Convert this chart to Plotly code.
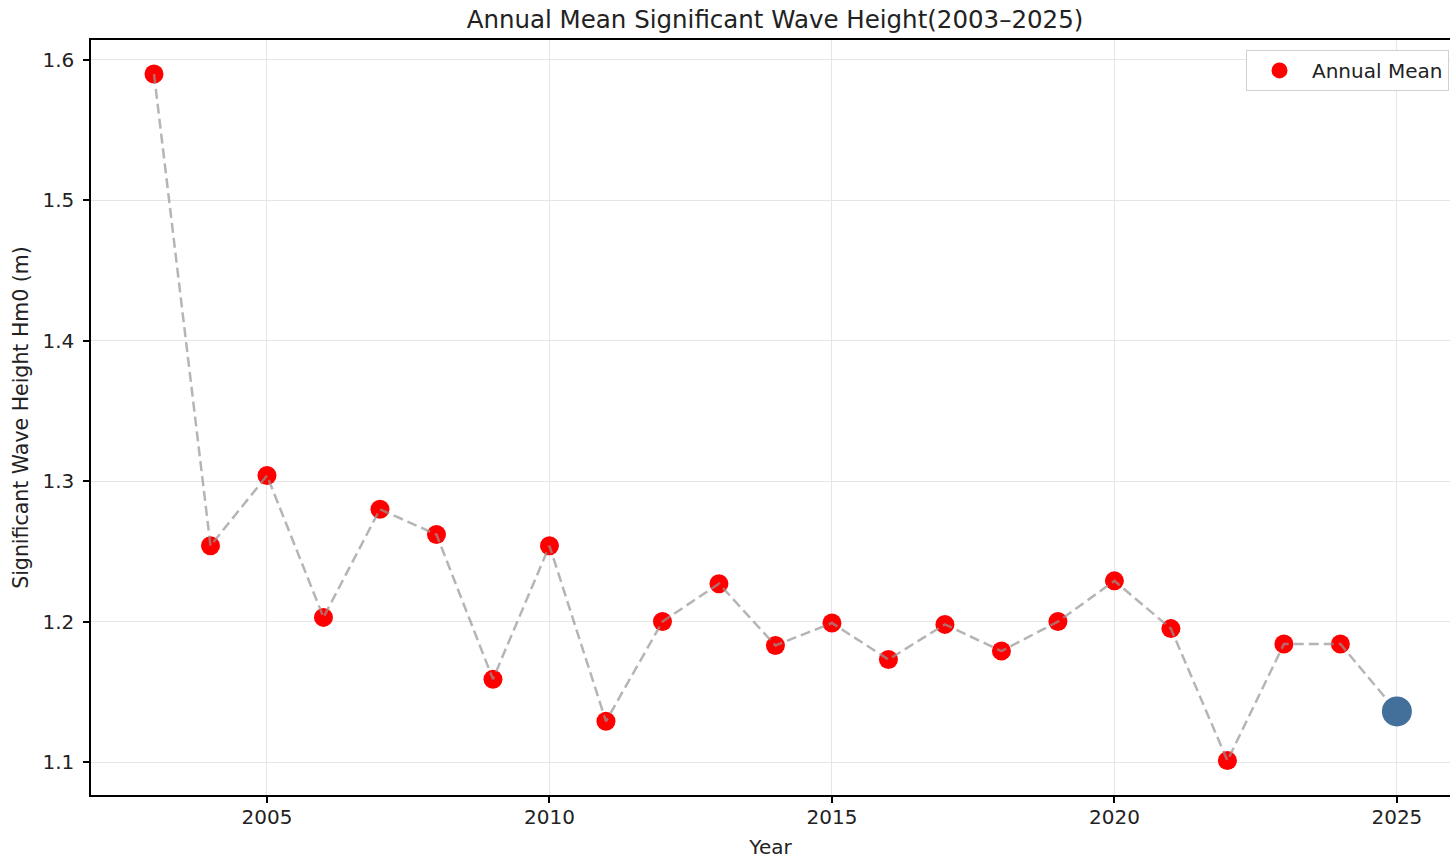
import plotly.graph_objects as go

years = list(range(2003, 2026))
hm0 = [1.590, 1.254, 1.304, 1.203, 1.280, 1.262, 1.159, 1.254, 1.129, 1.200,
       1.227, 1.183, 1.199, 1.173, 1.198, 1.179, 1.200, 1.229, 1.195, 1.101,
       1.184, 1.184, 1.136]
y_ticks = [1.1, 1.2, 1.3, 1.4, 1.5, 1.6]
x_ticks = [2005, 2010, 2015, 2020, 2025]

FONT = "DejaVu Sans"

fig = go.Figure()
fig.add_trace(go.Scatter(
    x=years[:-1], y=hm0[:-1], mode="markers", name="Annual Mean",
    marker=dict(color="#ff0000", size=19, line=dict(width=0)),
))
fig.add_trace(go.Scatter(
    x=years, y=hm0, mode="lines", showlegend=False, hoverinfo="skip",
    line=dict(color="rgba(150,150,150,0.7)", width=2.5, dash="10px,5px"),
))
fig.add_trace(go.Scatter(
    x=[years[-1]], y=[hm0[-1]], mode="markers", showlegend=False,
    marker=dict(color="#42709a", size=30, line=dict(width=0)),
))

W, H = 1450, 859
fig.update_layout(
    width=W, height=H,
    margin=dict(l=91, r=0, t=40, b=64),
    paper_bgcolor="white", plot_bgcolor="white",
    font=dict(family=FONT, size=20, color="#222"),
    title=dict(text="Annual Mean Significant Wave Height(2003–2025)",
               x=775 / W, xanchor="center", y=1 - 19 / H, yanchor="middle",
               font=dict(size=24.5, family=FONT, color="#222")),
    legend=dict(x=1 - 1 / 1359, xanchor="right", y=0.9868, yanchor="top",
                bgcolor="white", bordercolor="#d0d0d0", borderwidth=1,
                font=dict(size=20, family=FONT, color="#222"),
                itemsizing="trace", itemwidth=55),
)
fig.update_xaxes(
    range=[2001.885, 2025.94], tickvals=x_ticks,
    showline=True, linecolor="black", linewidth=1.5, mirror=True,
    ticks="outside", ticklen=6, tickcolor="black", tickwidth=1.5,
    ticklabelstandoff=-3,
    showgrid=True, gridcolor="#e6e6e6", gridwidth=1, zeroline=False,
    title=dict(text="Year", standoff=12, font=dict(size=20, family=FONT)),
    tickfont=dict(size=20, family=FONT, color="#222"),
)
fig.update_yaxes(
    range=[1.0765, 1.6142], tickvals=y_ticks, tickformat=".1f",
    showline=True, linecolor="black", linewidth=1.5, mirror=False,
    ticks="outside", ticklen=6, tickcolor="black", tickwidth=1.5,
    ticklabelstandoff=5,
    showgrid=True, gridcolor="#e6e6e6", gridwidth=1, zeroline=False,
    title=dict(text="Significant Wave Height Hm0 (m)", standoff=8,
               font=dict(size=20.5, family=FONT)),
    tickfont=dict(size=20, family=FONT, color="#222"),
)

fig.write_html("out.html",
               config={"displayModeBar": False},
               post_script="document.body.style.margin='0';"
                           "document.body.style.overflow='hidden';")
